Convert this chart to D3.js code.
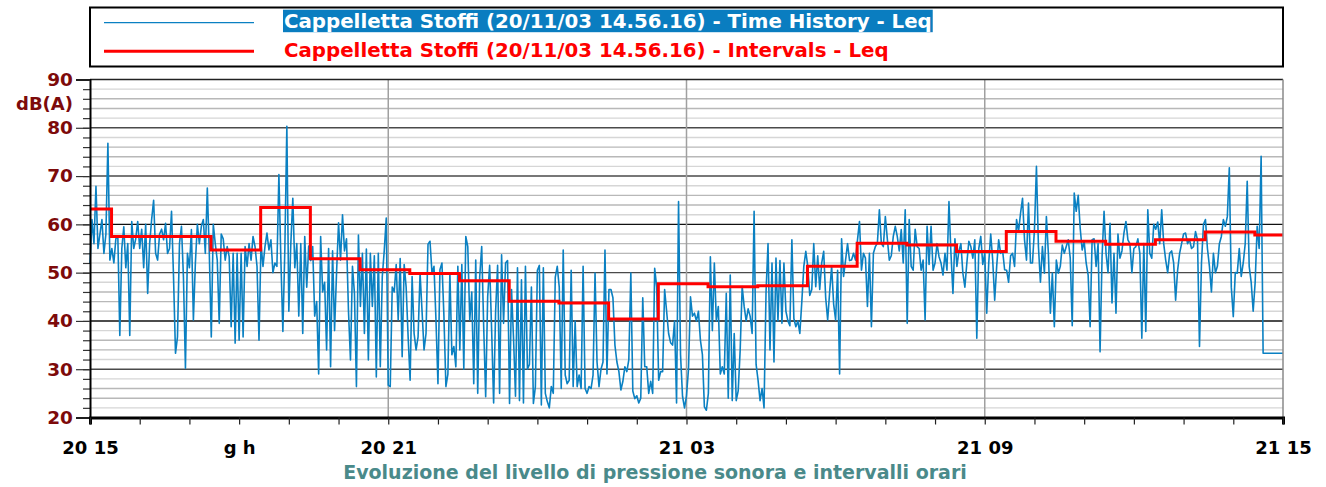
<!DOCTYPE html>
<html>
<head>
<meta charset="utf-8">
<script src="https://cdn.jsdelivr.net/npm/d3@7"></script>
<style>
  body { margin: 0; background: #fff; }
  svg { display: block; }
  text { font-family: "DejaVu Sans", Verdana, sans-serif; font-weight: bold; }
</style>
</head>
<body>
<svg id="chart" width="1326" height="487"></svg>
<script>
// Measurement window (day 20 15:00 -> day 21 15:00), Leq sampled every 2.4 minutes
const periodStart = "2003-11-20 15:00";
const periodEnd = "2003-11-21 15:00";
const sampleStepMinutes = 2.4;

// Time history Leq, dB(A)
const timeHistoryLeq = [
  52, 61, 56, 67.9, 55, 58, 61, 54, 58, 76.8,
  52.6, 55, 52, 57, 57.5, 37, 55, 59.5, 51, 56,
  37, 60.6, 55, 57, 60.6, 55, 59, 51, 60, 45.7,
  56, 61, 65, 54, 52.6, 58, 59, 56.8, 60.2, 54,
  55, 62.7, 49.2, 33.3, 36.7, 56, 59.6, 49, 30.2, 54,
  51, 58.9, 40.2, 52, 60, 56, 59.6, 61, 54, 67.5,
  54, 36.7, 60, 56, 52.6, 39.5, 58, 57, 52.6, 55.4,
  53.3, 38.8, 54, 35.4, 54, 36, 54, 36.7, 55.4, 51.3,
  56, 52.6, 57.5, 55.4, 51.3, 36, 56, 51.3, 55.4, 58.2,
  54.7, 56.8, 50, 52, 51.3, 70.3, 52.6, 37.8, 55, 80.3,

  42, 56, 65.4, 51, 56, 41, 56, 37.4, 57.5, 47,
  55.5, 52.5, 55.4, 41, 44, 29, 57.5, 46, 48, 34,
  55, 30.5, 54.5, 38, 50, 60.3, 52.6, 62, 54.5, 57,
  42, 31.9, 51.3, 45.7, 26.4, 57.8, 43, 54, 37.4, 54.9,
  31.9, 54, 43, 53.5, 28.4, 54, 30.5, 49.2, 54.6, 61.3,
  26.7, 26.4, 47, 46, 51.7, 40.2, 52.9, 32.6, 51.7, 47,
  36.7, 27.7, 49.2, 37.4, 34, 36.7, 49.9, 42, 34, 37.4,
  55.9, 56.5, 49.9, 51.3, 40.2, 27, 50.6, 52, 41, 26.4,
  29, 49.9, 33, 34.7, 30.5, 51.3, 34, 51.7, 30, 57.5,
  55.4, 40.2, 46, 27, 52.6, 25, 49.2, 55.4, 38.8, 24.3,

  45, 51.5, 38, 23, 42, 51.5, 25, 53.7, 39.5, 52,
  52.5, 22.9, 46.5, 36.5, 24.4, 51, 23.5, 48.5, 23, 51.3,
  30, 31, 47, 22.9, 26.4, 50.5, 51.5, 22.6, 51, 25,
  23.3, 22, 26.4, 25, 49, 51.3, 47, 26, 54.7, 28.8,
  27, 27.7, 50.5, 26.4, 40, 26.4, 28.8, 26, 51.3, 26,
  25, 26.4, 26, 28.8, 49.9, 31.5, 26.4, 30, 31.5, 54.7,
  29, 46.5, 46.5, 44.8, 35, 31.5, 29.5, 25.7, 27.5, 30.5,
  29.5, 32, 49.9, 25.5, 23.9, 24.5, 23, 24, 44.8, 30.5,
  30.5, 25, 27.5, 25, 50.9, 47, 27.7, 29.5, 29.5, 46.5,
  42, 37.4, 35.5, 35, 40, 23, 64.7, 33, 24.4, 22,

  24.5, 30, 45, 41, 41.6, 40, 42, 36, 33, 22.2,
  21.5, 25, 53.3, 38, 52, 40, 43, 29, 30.5, 29,
  45.7, 24, 49.5, 23.5, 37.4, 23.5, 25.5, 34, 47.1, 43,
  40, 42.5, 41, 37.4, 62.7, 31, 27.7, 23.5, 26, 22,
  46, 56, 34, 52, 31.5, 53, 40, 52.5, 39.5, 52,
  42, 40, 39, 56.8, 40.5, 38.8, 40, 37.4, 44, 51.3,
  54.4, 51.3, 45.3, 46.5, 56, 47.1, 53.5, 46.5, 52, 54.4,
  44.8, 40.2, 46, 51.3, 43.5, 40.2, 50.5, 29, 57, 49.2,
  52.6, 56, 52.5, 52.6, 54, 52.6, 56.8, 60.6, 50.5, 54,
  53, 43, 54, 38.8, 54, 55.4, 56.1, 63, 56, 55.4,
  61.6,

  57, 52.6, 53.5, 57.5, 59.6, 57.5, 54.5, 58.9, 52, 63,
  39.5, 61, 51.3, 50.5, 59, 55.4, 55, 50.5, 52.6, 40.2,
  59.6, 51.7, 59.6, 50.5, 52, 56, 53.3, 52, 49.5, 54,
  50.5, 64.7, 54, 45.7, 57, 51.3, 54.5, 56, 49.9, 47,
  52, 56.5, 55.4, 53, 56.8, 36.4, 55, 57.5, 51.7, 54,
  41.6, 52, 58, 52.6, 44.3, 51.3, 56.8, 54, 54.5, 50.6,
  50.5, 48, 53.5, 54, 51.3, 61, 58.5, 62.3, 65.4, 56.8,
  52.6, 64.4, 52, 52, 59, 72, 55.4, 48, 55.4, 49.9,
  61.6, 54, 41.6, 49.9, 38.8, 52.6, 49.9, 51.3, 55.7, 54,
  55.4, 56.8, 53, 39, 66.5, 62.7, 66, 59.2, 54.7, 56.5,

  52, 49.5, 38.8, 56.8, 57, 51.3, 56, 33.6, 53.3, 62.7,
  54, 50, 60.2, 43.7, 54, 41.6, 58, 53, 54.5, 58.2,
  60.6, 56.8, 56, 50, 55, 55.4, 57, 54, 36.4, 56,
  37.8, 63, 54, 53, 60, 59, 60.5, 56, 63, 56,
  52.6, 50, 54, 54.5, 52, 44.3, 50.5, 54, 56, 58,
  58.2, 56, 56.8, 55, 55.4, 58.5, 56.8, 34.7, 52, 60,
  61, 55, 51.3, 46, 54, 50, 51.3, 56, 57.5, 61,
  59.6, 61.6, 71.7, 47, 40.9, 50, 49.9, 55, 49.2, 52,
  56, 68.9, 51.3, 48, 42, 48, 59.6, 55, 74.1, 33.3,
  33.3, 33.3, 33.3, 33.3, 33.3, 33.3, 33.3, 33.3, 33.3, 33.3
];

// Interval Leq: start of each interval and its level, dB(A)
const intervalStarts = [
  "2003-11-20 15:00", "2003-11-20 15:26", "2003-11-20 17:26", "2003-11-20 18:26",
  "2003-11-20 19:26", "2003-11-20 20:26", "2003-11-20 21:26", "2003-11-20 22:26",
  "2003-11-20 23:26", "2003-11-21 00:26", "2003-11-21 01:26", "2003-11-21 02:26",
  "2003-11-21 03:26", "2003-11-21 04:26", "2003-11-21 05:26", "2003-11-21 06:26",
  "2003-11-21 07:26", "2003-11-21 08:26", "2003-11-21 09:26", "2003-11-21 10:26",
  "2003-11-21 11:26", "2003-11-21 12:26", "2003-11-21 13:26", "2003-11-21 14:26"
];
const intervalLeq = [
  63.2, 57.5, 54.7, 63.5, 52.9, 50.6, 49.8, 48.3,
  44.1, 43.7, 40.4, 47.7, 47.1, 47.3, 51.3, 56.1,
  55.7, 54.4, 58.5, 56.5, 55.9, 56.8, 58.4, 57.8
];

// Axis labels
const xLabelTimes = ["2003-11-20 15:00", "2003-11-20 18:00", "2003-11-20 21:00",
                     "2003-11-21 03:00", "2003-11-21 09:00", "2003-11-21 15:00"];
const xLabelTexts = ["20 15", "g h", "20 21", "21 03", "21 09", "21 15"];
const xGridTimes = ["2003-11-20 21:00", "2003-11-21 03:00", "2003-11-21 09:00"];
const yMajorTicks = [20, 30, 40, 50, 60, 70, 80, 90];
const yUnit = "dB(A)";

const legendLabels = [
  "Cappelletta Stoffi (20/11/03 14.56.16) - Time History - Leq",
  "Cappelletta Stoffi (20/11/03 14.56.16) - Intervals - Leq"
];
const chartTitle = "Evoluzione del livello di pressione sonora e intervalli orari";

// ---- drawing ----
const parse = d3.timeParse("%Y-%m-%d %H:%M");
const t0 = parse(periodStart), t1 = parse(periodEnd);

const plot = { left: 90, right: 1283, top: 79.5, bottom: 417.5 };
const x = d3.scaleTime().domain([t0, t1]).range([plot.left, plot.right]);
const y = d3.scaleLinear().domain([20, 90]).range([plot.bottom, plot.top]);

const blue = "#0a80c2", red = "#ff0000", axisRed = "#7d0a0a";
const svg = d3.select("#chart");

// Horizontal grid every 2 dB
const minorVals = d3.range(22, 90, 2).filter(v => v % 10 !== 0);
svg.append("g").selectAll("line").data(minorVals).join("line")
  .attr("x1", plot.left).attr("x2", plot.right)
  .attr("y1", d => y(d)).attr("y2", d => y(d))
  .attr("stroke", d => (d % 10 === 2 || d % 10 === 8) ? "#d6d6d6" : "#b8b8b8")
  .attr("stroke-width", 1.4);
svg.append("g").selectAll("line").data(yMajorTicks.filter(v => v > 20 && v < 90)).join("line")
  .attr("x1", plot.left).attr("x2", plot.right)
  .attr("y1", d => y(d)).attr("y2", d => y(d))
  .attr("stroke", d => (d === 40 || d === 60) ? "#111" : "#4a4a4a")
  .attr("stroke-width", 1.4);

// Vertical grid at 6 h
svg.append("g").selectAll("line").data(xGridTimes.map(parse)).join("line")
  .attr("x1", d => x(d)).attr("x2", d => x(d))
  .attr("y1", plot.top).attr("y2", plot.bottom)
  .attr("stroke", "#a0a0a0").attr("stroke-width", 1.5);

// Time history trace
const samples = timeHistoryLeq.map((v, i) => ({
  t: new Date(t0.getTime() + i * sampleStepMinutes * 60000), v
}));
svg.append("path").datum(samples)
  .attr("fill", "none").attr("stroke", blue).attr("stroke-width", 1.6)
  .attr("stroke-linejoin", "round")
  .attr("d", d3.line().x(d => x(d.t)).y(d => y(d.v)));

// Interval steps
const steps = intervalStarts.map((s, i) => ({ t: parse(s), v: intervalLeq[i] }));
steps.push({ t: t1, v: intervalLeq[intervalLeq.length - 1] });
svg.append("path").datum(steps)
  .attr("fill", "none").attr("stroke", red).attr("stroke-width", 3)
  .attr("d", d3.line().curve(d3.curveStepAfter).x(d => x(d.t)).y(d => y(d.v)));

// Plot frame
svg.append("line").attr("x1", plot.left).attr("x2", plot.right)
  .attr("y1", plot.top).attr("y2", plot.top).attr("stroke", "#222").attr("stroke-width", 1.5);
svg.append("line").attr("x1", plot.right).attr("x2", plot.right)
  .attr("y1", plot.top).attr("y2", plot.bottom).attr("stroke", "#8a8a8a").attr("stroke-width", 1.5);

// Y axis: minor ticks, major ticks with labels
const yMinor = svg.append("g").attr("transform", `translate(${plot.left},0)`)
  .call(d3.axisLeft(y).tickValues(d3.range(20, 91, 2)).tickSize(7).tickFormat(""));
yMinor.select(".domain").remove();
yMinor.selectAll("line").attr("stroke", "#333").attr("stroke-width", 1.2);
const yMajor = svg.append("g").attr("transform", `translate(${plot.left},0)`)
  .call(d3.axisLeft(y).tickValues(yMajorTicks).tickSize(14).tickPadding(3));
yMajor.select(".domain").attr("stroke", "#000").attr("stroke-width", 2);
yMajor.selectAll("line").attr("stroke", "#333").attr("stroke-width", 1.2);
yMajor.selectAll("text").attr("fill", axisRed)
  .style("font-size", "18.5px").style("font-family", '"DejaVu Sans", sans-serif').style("font-weight", "bold");
svg.append("text").attr("x", plot.left - 17).attr("y", y(85)).attr("dy", "0.36em")
  .attr("text-anchor", "end").attr("fill", axisRed).style("font-size", "18px").text(yUnit);

// X axis
const hourly = d3.timeHour.range(t0, d3.timeHour.offset(t1, 1));
const labelMap = new Map(xLabelTimes.map((s, i) => [parse(s).getTime(), xLabelTexts[i]]));
const xAxis = svg.append("g").attr("transform", `translate(0,${plot.bottom})`)
  .call(d3.axisBottom(x).tickValues(hourly).tickSize(7).tickPadding(17)
    .tickFormat(d => labelMap.get(d.getTime()) || ""));
xAxis.select(".domain").attr("stroke", "#000").attr("stroke-width", 3);
xAxis.selectAll("line").attr("stroke", "#222").attr("stroke-width", 1.2);
xAxis.selectAll("text").attr("fill", "#000")
  .style("font-size", "18px").style("font-family", '"DejaVu Sans", sans-serif').style("font-weight", "bold");

// Legend
const legend = svg.append("g");
legend.append("rect").attr("x", plot.left).attr("y", 7.5)
  .attr("width", plot.right - plot.left).attr("height", 59)
  .attr("fill", "none").attr("stroke", "#000").attr("stroke-width", 2);
legend.append("line").attr("x1", 104).attr("x2", 254).attr("y1", 22.7).attr("y2", 22.7)
  .attr("stroke", blue).attr("stroke-width", 1.3);
legend.append("line").attr("x1", 104).attr("x2", 254).attr("y1", 51.3).attr("y2", 51.3)
  .attr("stroke", red).attr("stroke-width", 3);
const l1 = legend.append("text").attr("x", 284).attr("y", 27.5)
  .attr("fill", "#fff").style("font-size", "19.8px").text(legendLabels[0]);
const bb = l1.node().getBBox();
legend.insert("rect", "text").attr("x", bb.x - 1).attr("y", 9.7)
  .attr("width", bb.width + 2).attr("height", 22.5).attr("fill", "#0a7dc0");
legend.append("text").attr("x", 284).attr("y", 56.5)
  .attr("fill", red).style("font-size", "19.8px").text(legendLabels[1]);

// Title
svg.append("text").attr("x", 655).attr("y", 479).attr("text-anchor", "middle")
  .attr("fill", "#4a8a8a").style("font-size", "19px").text(chartTitle);
</script>
</body>
</html>
